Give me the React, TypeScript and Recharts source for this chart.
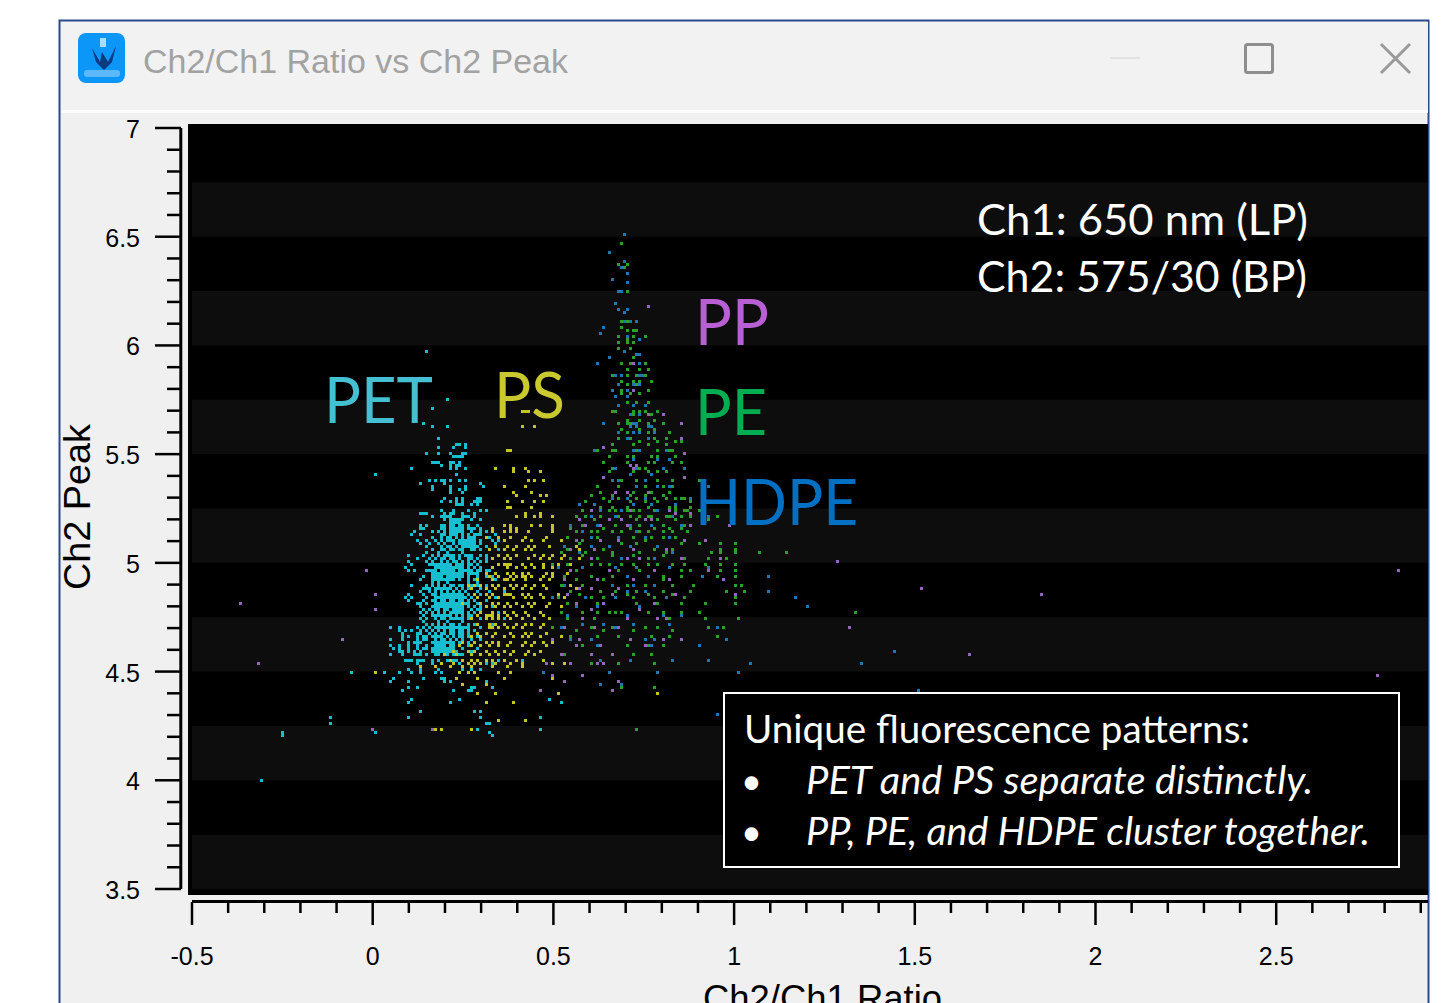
import React from 'react';
import { ScatterChart, Scatter, XAxis, YAxis, ReferenceArea, ReferenceLine } from 'recharts';

type Row = [number, number[]];

const X_TICKS = [-0.5, -0.4, -0.3, -0.2, -0.1, 0, 0.1, 0.2, 0.3, 0.4, 0.5, 0.6, 0.7, 0.8, 0.9, 1, 1.1, 1.2, 1.3, 1.4, 1.5, 1.6, 1.7, 1.8, 1.9, 2, 2.1, 2.2, 2.3, 2.4, 2.5, 2.6, 2.7, 2.8, 2.9];
const Y_TICKS = [3.5, 3.6, 3.7, 3.8, 3.9, 4, 4.1, 4.2, 4.3, 4.4, 4.5, 4.6, 4.7, 4.8, 4.9, 5, 5.1, 5.2, 5.3, 5.4, 5.5, 5.6, 5.7, 5.8, 5.9, 6, 6.1, 6.2, 6.3, 6.4, 6.5, 6.6, 6.7, 6.8, 6.9, 7];
const X_LABELS = [-0.5, 0, 0.5, 1, 1.5, 2, 2.5];
const Y_LABELS = [3.5, 4, 4.5, 5, 5.5, 6, 6.5, 7];
const BANDS = [[6.5, 6.75], [6, 6.25], [5.5, 5.75], [5, 5.25], [4.5, 4.75], [4, 4.25], [3.5, 3.75]];

// each row is [Ch2 peak, [Ch2/Ch1 ratios]]
const PET_ROWS: Row[] = [
  [5.98, [.15]], [5.75, [.205]], [5.71, [.168]], [5.64, [.143]], [5.63, [.163, .209]], [5.57, [.177]],
  [5.55, [.228, .24, .255]], [5.53, [.177, .225, .255]], [5.505, [.15, .177, .218, .246, .255]],
  [5.485, [.224, .232, .24, .25]], [5.47, [.16, .17, .177, .215, .225, .24]], [5.455, [.193, .21, .228, .237]],
  [5.43, [.11, .218, .232, .255]], [5.41, [.01, .232]], [5.385, [.158, .175, .185, .195, .218, .24, .255]],
  [5.37, [.135, .195, .297]], [5.357, [.16, .21, .255, .306]], [5.34, [.166, .218, .24, .255]],
  [5.325, [.215, .245]], [5.305, [.195, .232, .245, .285, .295]], [5.285, [.19, .21, .232, .25, .28, .29, .3]],
  [5.265, [.23, .24, .25, .27, .285]], [5.245, [.19, .225, .265, .3, .31]], [5.23, [.13, .14, .145, .2, .215, .225, .25, .28]],
  [5.21, [.16, .185, .195, .205, .215, .245, .255, .265, .28]], [5.2, [.2, .21, .22, .23, .24, .25, .27, .3]],
  [5.18, [.13, .15, .185, .2, .21, .22, .225, .24, .25, .265, .29]],
  [5.165, [.13, .14, .19, .2, .21, .22, .23, .24, .25, .26, .27, .28, .3]],
  [5.15, [.115, .16, .18, .2, .21, .22, .23, .24, .25, .27, .3, .31, .33]],
  [5.135, [.11, .135, .185, .2, .21, .22, .23, .245, .26, .28, .29, .3, .34]],
  [5.12, [.16, .185, .205, .215, .23, .25, .26, .27, .28, .32]],
  [5.105, [.125, .145, .175, .19, .21, .225, .24, .25, .26, .27, .28, .3, .33, .35]],
  [5.09, [.13, .155, .18, .2, .22, .235, .245, .255, .27, .28, .3, .34]],
  [5.075, [.145, .19, .21, .23, .25, .27, .29, .31]],
  [5.06, [.165, .185, .2, .215, .225, .24, .25, .27, .28, .3, .32, .35]],
  [5.04, [.1, .14, .16, .18, .195, .21, .225, .24, .255, .275, .295, .315]],
  [5.025, [.12, .155, .17, .19, .2, .21, .22, .24, .26, .27, .29, .31, .33]],
  [5.01, [.095, .15, .165, .185, .205, .22, .23, .245, .26, .28, .3, .31]],
  [4.995, [.11, .16, .17, .18, .19, .2, .21, .23, .24, .25, .27, .29]],
  [4.98, [.09, .17, .18, .19, .2, .21, .22, .23, .24, .25, .26, .28, .3]],
  [4.965, [.1, .115, .155, .165, .175, .185, .195, .205, .215, .225, .235, .245, .255, .265, .275, .285, .3, .31, .32]],
  [4.95, [.16, .17, .18, .19, .2, .21, .22, .23, .24, .25, .26, .27, .28, .29]],
  [4.935, [.14, .16, .175, .19, .205, .22, .235, .25, .265, .29, .31, .33]],
  [4.92, [.13, .17, .19, .2, .21, .225, .24, .26, .28, .34]],
  [4.905, [.11, .15, .16, .18, .195, .21, .22, .235, .245, .26, .27, .29, .31]],
  [4.89, [.14, .15, .17, .19, .2, .215, .23, .25, .27, .3]],
  [4.875, [.135, .155, .175, .19, .205, .22, .24, .255, .29, .32, .36]],
  [4.86, [.1, .14, .16, .17, .185, .2, .21, .22, .23, .24, .25, .26, .28, .3]],
  [4.845, [.09, .105, .15, .17, .18, .19, .2, .21, .22, .23, .24, .27, .29, .34]],
  [4.83, [.1, .14, .16, .175, .19, .2, .21, .22, .245, .26, .28, .31]],
  [4.815, [.125, .135, .15, .17, .19, .2, .21, .22, .23, .24, .25, .265, .29]],
  [4.8, [.13, .16, .175, .19, .21, .225, .24, .25, .26, .28, .3, .33]],
  [4.785, [.14, .155, .17, .195, .205, .22, .235, .25, .27, .3]],
  [4.77, [.13, .15, .165, .18, .2, .21, .22, .23, .24, .26, .28, .35]],
  [4.755, [.14, .16, .18, .19, .2, .215, .23, .25, .27, .29, .31]],
  [4.74, [.135, .15, .17, .185, .2, .21, .22, .235, .25, .265, .3, .36]],
  [4.725, [.15, .16, .18, .195, .21, .225, .24, .26, .28, .33]],
  [4.71, [.05, .075, .12, .14, .155, .17, .185, .2, .21, .22, .24, .255, .3]],
  [4.695, [.07, .09, .105, .13, .15, .165, .18, .195, .21, .225, .24, .26, .28]],
  [4.68, [.085, .12, .135, .155, .17, .19, .2, .21, .22, .24, .25, .265, .31]],
  [4.665, [.08, .1, .125, .14, .16, .175, .19, .205, .22, .235, .25, .26, .29]],
  [4.65, [.05, .085, .12, .14, .15, .17, .185, .2, .215, .23, .245, .27, .3]],
  [4.635, [.1, .125, .16, .175, .19, .2, .21, .22, .235, .25, .28]],
  [4.62, [.05, .07, .1, .125, .15, .17, .18, .19, .2, .21, .22, .24, .26]],
  [4.605, [.055, .075, .1, .12, .145, .165, .18, .19, .2, .21, .225, .25, .29]],
  [4.59, [.07, .085, .1, .115, .13, .16, .175, .19, .2, .21, .23, .27]],
  [4.575, [.05, .08, .115, .13, .15, .18, .2, .22, .245, .3]],
  [4.555, [.09, .1, .11, .12, .14, .16, .23, .25, .27, .35, .41]],
  [4.535, [.12, .16, .22, .24, .26, .31, .33]],
  [4.515, [.1, .13, .18, .25, .27, .3]],
  [4.495, [-.057, .03, .07, .11, .13, .17, .19]], [4.47, [.06, .14, .19, .2]], [4.45, [.05, .1, .2, .21, .31]],
  [4.435, [.1, .12, .27, .28, .33]], [4.41, [.08, .22, .26, .27]], [4.38, [.11, .24, .49]], [4.355, [.1, .21, .39, .52]],
  [4.32, [.13, .3, .28]], [4.295, [-.117, .1, .46, .3]], [4.26, [-.117, .31, .32]], [4.235, [.17, .29, .46]],
  [4.22, [-.25, .01, .32]], [4.205, [-.25, .33]], [4, [-.31]],
];

// the solid blobs in the middle of the PET cluster
const PET_CORE_ROWS: Row[] = [
  [5.205, [.223, .231, .239, .247]], [5.19, [.215, .223, .231, .239]], [5.175, [.215, .223, .239]],
  [5.16, [.223, .231, .239, .247]], [5.145, [.231, .239, .247]], [5.13, [.215, .223, .231, .247]],
  [5.105, [.25, .258, .274]], [5.09, [.258, .266, .274]], [5.075, [.25, .258, .266, .282]],
  [4.975, [.173, .19, .198, .206, .215, .223, .24]],
  [4.96, [.165, .173, .181, .198, .206, .223, .231, .248]],
  [4.945, [.173, .181, .19, .206, .215, .231, .24, .248]],
  [4.93, [.165, .181, .19, .198, .206, .223, .24]],
  [4.845, [.18, .198, .206, .223, .231, .248, .256]],
  [4.83, [.19, .198, .215, .223, .24, .248]],
  [4.815, [.19, .206, .215, .231, .24, .256]],
  [4.8, [.18, .198, .206, .223, .231, .248]],
  [4.77, [.21, .218, .235, .245]], [4.755, [.218, .227, .245]], [4.74, [.218, .227, .235]],
  [4.725, [.21, .218, .235]], [4.71, [.218, .227, .245]], [4.695, [.21, .235, .245]],
  [4.64, [.165, .181, .19, .206, .215]], [4.625, [.173, .19, .198, .215]],
  [4.61, [.165, .173, .198, .206, .223]], [4.595, [.181, .19, .206]],
];

// in-between readings that break up the columns of the cluster
const PET_FILL_ROWS: Row[] = [
  [5.11, [.1724, .2056, .2637]], [5.08, [.2056, .2305, .2637, .2886]], [5.05, [.148, .1807, .2056, .2471]],
  [5.03, [.1807, .2056, .2637]], [5.0, [.1558, .2056, .2305, .2637]], [4.97, [.148, .2056, .2637, .2969]],
  [4.94, [.1807, .2056, .2388]], [4.91, [.1641, .1807, .2056, .2637, .2886]], [4.88, [.1558, .1807, .2056, .2471, .2637]],
  [4.85, [.1641, .2056, .2637, .3135]], [4.82, [.148, .1807, .2056, .2637]], [4.79, [.1807, .2056, .2305, .2886]],
  [4.76, [.1724, .2056, .2637]], [4.73, [.1392, .1807, .2056, .2471]], [4.7, [.1807, .2056, .2637, .1226]],
  [4.67, [.1475, .1807, .2056, .2388]], [4.64, [.1309, .1807, .2056, .2637, .1143]], [4.61, [.1392, .1807, .2056, .0977]],
  [4.58, [.1226, .1475, .1724, .2056, .2388]], [4.56, [.1309, .1807, .2056, .2222]],
];

const PS_ROWS: Row[] = [
  [5.7, [.41, .42, .43]], [5.63, [.41, .45]], [5.52, [.37, .38]], [5.44, [.34, .39, .42]], [5.42, [.39, .43, .46]],
  [5.38, [.43, .45, .47]], [5.36, [.36, .42]], [5.33, [.39, .44]], [5.31, [.4, .46, .48]], [5.28, [.37, .41, .45, .47]],
  [5.26, [.37, .38, .44]], [5.23, [.42, .46]], [5.21, [.4, .42, .45, .46, .5]], [5.18, [.36, .38, .44, .46, .5]],
  [5.16, [.38, .4, .5, .33]], [5.14, [.33, .36, .38, .4, .43, .5]], [5.12, [.31, .35, .38, .42, .48]],
  [5.1, [.36, .41, .44, .47, .52]], [5.08, [.34, .37, .4, .43, .45, .49, .53, .56]],
  [5.06, [.32, .36, .39, .42, .44, .54, .57]], [5.04, [.35, .37, .4, .45, .47, .5, .53]],
  [5.02, [.33, .36, .38, .43, .46, .49, .52, .57]], [5, [.35, .36, .37, .38, .41, .44, .47, .51, .55]],
  [4.98, [.33, .37, .4, .42, .45, .47, .5]], [4.96, [.31, .34, .37, .39, .41, .43, .48, .5, .54]],
  [4.94, [.32, .35, .38, .4, .41, .42, .44, .47, .5]], [4.92, [.29, .33, .36, .37, .39, .42, .46, .49, .53]],
  [4.9, [.26, .28, .3, .33, .35, .38, .4, .42, .45, .47, .52, .55]], [4.88, [.27, .31, .34, .36, .39, .41, .44, .48, .56]],
  [4.86, [.28, .31, .33, .36, .37, .38, .41, .43, .46, .51]], [4.84, [.29, .32, .35, .39, .42, .44, .47, .53]],
  [4.82, [.25, .3, .33, .35, .37, .4, .43, .45, .49]], [4.8, [.31, .34, .36, .38, .41, .44, .48, .52]],
  [4.78, [.3, .33, .36, .39, .42, .46]], [4.76, [.29, .31, .32, .33, .35, .37, .4, .43, .47]],
  [4.74, [.27, .31, .33, .35, .38, .41, .45, .49]], [4.72, [.29, .32, .34, .36, .4, .42, .44, .47]],
  [4.7, [.32, .33, .35, .37, .39, .41, .46, .5]], [4.68, [.29, .31, .34, .38, .42, .44, .48]],
  [4.66, [.27, .3, .33, .36, .39, .41, .43, .46, .52]], [4.64, [.25, .28, .31, .33, .35, .38, .42, .45, .47, .5]],
  [4.62, [.24, .27, .3, .32, .35, .37, .41, .44, .48]], [4.6, [.22, .26, .28, .31, .34, .36, .39, .43, .46]],
  [4.58, [.2, .23, .27, .3, .32, .35, .38, .42, .45, .53]], [4.56, [.21, .25, .27, .29, .31, .33, .36, .4, .47]],
  [4.54, [.19, .22, .26, .28, .3, .34, .38, .41, .5, .53]], [4.52, [.13, .17, .21, .25, .27, .33, .37, .41]],
  [4.5, [.01, .24, .26, .28, .35, .38]], [4.47, [.23, .29, .36, .5]], [4.44, [.25, .31]], [4.4, [.29, .34, .51, .79]],
  [4.36, [.31, .39]], [4.28, [.35, .42]], [4.24, [.17, .19, .27]],
];

const HDPE_ROWS: Row[] = [
  [6.51, [.693]], [6.427, [.652]], [6.385, [.693]], [6.354, [.684]], [6.34, [.702]], [6.3, [.661]], [6.285, [.702]],
  [6.254, [.675, .685]], [6.19, [.668]], [6.17, [.677, .702]], [6.158, [.693]], [6.113, [.693, .71, .726]],
  [6.083, [.635]], [6.055, [.627]], [6.04, [.702, .718]], [6.03, [.735]], [5.98, [.693]], [5.956, [.73, .74]],
  [5.94, [.652]], [5.913, [.619, .74, .757]], [5.87, [.69, .74]], [5.86, [.67, .745]], [5.82, [.68, .72, .74]],
  [5.8, [.66, .7, .72, .76]], [5.765, [.67, .7]], [5.73, [.68, .72, .75]], [5.69, [.71, .74]], [5.65, [.64, .7, .72, .73]],
  [5.63, [.71, .73, .76, .77]], [5.6, [.68, .72, .74, .78]], [5.57, [.7, .76]], [5.52, [.61, .72, .74, .81]],
  [5.48, [.72, .79, .82]], [5.44, [.67, .73, .8, .86]], [5.41, [.71, .77]], [5.38, [.66, .68, .75, .79]],
  [5.35, [.62, .73, .79, .82, .93]], [5.3, [.64, .66, .7, .75, .81, .88]], [5.27, [.57, .61, .72, .77, .84]],
  [5.25, [.63, .69, .74, .79, .9]], [5.22, [.6, .67, .74, .83, .93]], [5.18, [.55, .62, .71, .77, .85]],
  [5.14, [.58, .66, .73, .8]], [5.12, [.6, .68, .75, .82]], [5.08, [.53, .6, .65, .71, .79]], [5.05, [.57, .74, .83]],
  [5.02, [.55, .62, .69, .78, .86, .93]], [4.98, [.51, .58, .67, .73, .82, .93]], [4.94, [.6, .7, .76, .85, .91, 1.09]],
  [4.9, [.53, .66, .72, .78, 1.0]], [4.87, [.55, .63, .7, .75, 1.09]], [4.84, [.5, .59, .67, .81, 1.17]],
  [4.8, [.56, .62, .74, 1.2]], [4.76, [.54, .7, .8, .85]], [4.72, [.58, .64, .72, .82]], [4.7, [.52, .61, .67, .79, .95]],
  [4.65, [.55, .6, .75, .78, .98]], [4.62, [.62, .7, .77, .9]], [4.6, [1.44]], [4.56, [.63, .71, .83, .93]],
  [4.54, [1.04, 1.35]], [4.5, [.47, .65, .79, 1.01]], [4.44, [.63, .69]], [4.41, [1.51]], [4.31, [2.15, .95]],
];

const PE_ROWS: Row[] = [
  [6.47, [.685]], [6.37, [.678, .701]], [6.355, [.695]], [6.255, [.703]], [6.11, [.685, .7]], [6.09, [.69]],
  [6.07, [.7, .72, .73]], [6.05, [.675, .72, .75]], [6.03, [.7]], [6.01, [.675, .705, .72]], [5.99, [.675, .71]],
  [5.95, [.72]], [5.92, [.69, .71, .75]], [5.89, [.7, .74, .76]], [5.87, [.73, .75]], [5.86, [.66, .7, .75]],
  [5.84, [.69, .72, .74, .77]], [5.82, [.7, .73]], [5.8, [.69, .72, .76]], [5.78, [.69, .71, .74]], [5.74, [.7, .73, .76]],
  [5.7, [.66, .67, .72, .74, .75, .79]], [5.68, [.72, .77]], [5.66, [.7, .74, .78]], [5.64, [.68, .7, .71, .76, .8]],
  [5.62, [.69, .74, .78]], [5.6, [.7, .76, .82]], [5.58, [.68, .71, .78, .81]], [5.56, [.74, .79, .84, .85]],
  [5.54, [.66, .72, .76, .81]], [5.52, [.62, .66, .67, .73, .79, .82, .83]], [5.49, [.65, .7, .72, .77, .79, .84]],
  [5.46, [.64, .7, .76, .78, .83, .85]], [5.44, [.66, .72, .74, .75]], [5.42, [.65, .72, .76, .79, .81]],
  [5.38, [.69, .73, .79, .83, .9]], [5.36, [.62, .68, .75, .8, .83]], [5.33, [.63, .7, .72, .77, .82]],
  [5.3, [.64, .68, .73, .78, .81, .84, .85, .86]], [5.28, [.59, .65, .71, .75, .79, .88]],
  [5.26, [.63, .66, .7, .76, .82, .84, .88, .91]], [5.24, [.6, .65, .7, .72, .78, .84, .87, .9]],
  [5.22, [.56, .63, .68, .74, .77, .81, .85, .88, .95]], [5.2, [.61, .65, .73, .79, .84, .93]],
  [5.18, [.58, .67, .7, .74, .8, .86]], [5.16, [.55, .64, .71, .78, .82, .85]], [5.14, [.56, .6, .69, .76, .83, .87]],
  [5.12, [.54, .62, .72, .77, .8, .84]], [5.09, [.57, .69, .73, .85, .9, .96, 1.0]], [5.07, [.54, .64, .78, .83, .96, 1.0]],
  [5.05, [.52, .59, .66, .74, .81, .94, .96, 1.0, 1.07, 1.14]], [5.02, [.55, .62, .7, .76, .86, .93, .98]],
  [5, [.5, .6, .65, .72, .79, .83, .92, .96, 1.0]], [4.97, [.56, .68, .74, .85, .88, .96, 1.0]],
  [4.94, [.53, .6, .66, .8, .85, .95, 1.0]], [4.9, [.52, .58, .7, .75, .83, .89, 1.0, 1.02]],
  [4.87, [.55, .63, .67, .73, .8, .88, .98, 1.03]], [4.84, [.51, .6, .64, .72, .78, .86, 1.0]],
  [4.81, [.54, .62, .73, .79, .85, .92, 1.0]], [4.77, [.58, .65, .69, .8, .85, .9, 1.335]],
  [4.74, [.54, .61, .7, .82, .92, 1.01]], [4.7, [.5, .6, .66, .75, .79, .93, .97]], [4.66, [.55, .62, .68, .77, .82, .95]],
  [4.62, [.58, .7, .76, .8]], [4.58, [.53, .66, .72, .77]], [4.54, [.6, .68, .78]], [4.43, [.78, .69]], [4.24, [.73]],
  [5.31, [.6, .66, .71, .75, .8]], [5.25, [.58, .67, .74, .86]], [5.21, [.59, .71, .76, .82]], [5.15, [.62, .66, .74, .8]],
  [5.11, [.58, .68, .75, .86]], [5.03, [.58, .66, .72, .8]], [4.99, [.54, .63, .69, .76, .86]], [4.92, [.56, .64, .72, .8]],
  [4.85, [.57, .7, .76, .83]], [4.78, [.52, .62, .67, .76]], [4.69, [.56, .64, .72, .83]],
];

const PP_ROWS: Row[] = [
  [6.185, [.76]], [5.92, [.72]], [5.8, [.72]], [5.68, [.765, .8]], [5.64, [.85]], [5.58, [.85]], [5.53, [.64]], [5.51, [.86]],
  [5.45, [.71, .73]], [5.44, [.72]], [5.39, [.64, .86]], [5.33, [.67, .7, .76]], [5.25, [.6, .71, .82]], [5.23, [.84, .88]],
  [5.2, [.57, .65, .69, .75, .77]], [5.17, [.59, .63, .7, .88, .99]], [5.1, [.56, .63, .68, .86, .92]], [5.06, [.55, .61, .72, .81]],
  [5.02, [.6, .7, .74, .85, .96]], [5.01, [1.285]], [4.97, [-.016, .55, .65, .78, .93, 2.84]], [4.92, [.53, .62, .72, .82, .97]],
  [4.88, [.57, .6, .68, 1.52]], [4.85, [.006, .54, .66, .84, 1.0, 1.85]], [4.81, [-.37, .56, .64, .78]], [4.79, [.006, .6, .74]],
  [4.75, [.58, .7, .79, .81]], [4.71, [.53, .61, .68, 1.32]], [4.655, [-.088, .5, .57, .71, .8, .85]], [4.62, [.56, .63, .75]],
  [4.585, [.52, .6, .66, 1.65]], [4.54, [-.32, .48, .55, .62, .64]], [4.485, [.5, .58, 2.78]], [4.46, [.53, .68]],
  [4.42, [.46, .66]], [4.23, [0, .16]],
];

const CYAN = '#17becf';
const YELLOW = '#c3c425';
const BLUE = '#1f77b4';
const GREEN = '#2ca02c';
const PURPLE = '#9467bd';

const toPoints = (rows: Row[]) => rows.flatMap(([y, xs]) => xs.map((x) => ({ x, y })));

// the source window plots on a coarse screen grid, so snap each mark to it
const Pixel = (props: any) => (
  <rect
    x={Math.round(props.cx / 3) * 3 - 1}
    y={Math.round(props.cy / 3) * 3 - 1}
    width={3}
    height={3}
    fill={props.fill}
    shapeRendering="crispEdges"
  />
);

const AXIS_FONT = '"Liberation Sans", Arial, sans-serif';
const TEXT_FONT = 'Lato, sans-serif';

const XTick = ({ x, y, payload }: any) => {
  const major = X_LABELS.includes(payload.value);
  return (
    <g>
      <line x1={x} x2={x} y1={y + 13} y2={y + (major ? 36 : 24)} stroke="#000" strokeWidth={2.5} />
      {major && (
        <text x={x} y={y + 76} textAnchor="middle" fontFamily={AXIS_FONT} fontSize={25} fill="#000">
          {payload.value}
        </text>
      )}
    </g>
  );
};

const YTick = ({ x, y, payload }: any) => {
  const major = Y_LABELS.includes(payload.value);
  return (
    <g>
      <line x1={x - (major ? 37 : 25)} x2={x - 11} y1={y} y2={y} stroke="#000" strokeWidth={2.5} />
      {major && (
        <text x={x - 52} y={y + 10} textAnchor="end" fontFamily={AXIS_FONT} fontSize={25} fill="#000">
          {payload.value}
        </text>
      )}
    </g>
  );
};

const WindowFrame = () => (
  <svg width={1445} height={1003} style={{ position: 'absolute', left: 0, top: 0 }}>
    <rect x={0} y={0} width={1445} height={1003} fill="#fff" />
    <rect x={59.5} y={20.5} width={1369} height={1000} fill="#f0f0f0" stroke="#2b4a8b" strokeWidth={2} />
    <rect x={61} y={22} width={1367} height={88} fill="#f2f2f2" />
    <rect x={61} y={110} width={1367} height={3} fill="#fbfbfb" />
    <rect x={78} y={33} width={47} height={50} rx={8} fill="#0b96f8" />
    <path d="M 92 48 L 100 62 L 102 52 L 108 62 L 116 46 L 112 62 L 104 70 L 96 62 Z" fill="#0a3a80" />
    <rect x={100} y={38} width={6} height={9} fill="#a9dcff" />
    <rect x={84} y={70} width={36} height={7} rx={3} fill="#5bb8fb" />
    <text x={143} y={73} fontFamily={AXIS_FONT} fontSize={34} fill="#a2a2a2" textLength={425} lengthAdjust="spacingAndGlyphs">
      Ch2/Ch1 Ratio vs Ch2 Peak
    </text>
    <line x1={1110} x2={1140} y1={58} y2={58} stroke="#e2e2e2" strokeWidth={2} />
    <rect x={1245.5} y={44.5} width={27} height={28} rx={2} fill="none" stroke="#8e8e8e" strokeWidth={3} />
    <path d="M 1381 44 L 1410 73 M 1410 44 L 1381 73" stroke="#9a9a9a" strokeWidth={3} />
    <rect x={188} y={124} width={1240} height={771} fill="#000" />
    <text transform="translate(90 590) rotate(-90)" fontFamily={AXIS_FONT} fontSize={36} fill="#000" textLength={166} lengthAdjust="spacingAndGlyphs">
      Ch2 Peak
    </text>
    <text x={703} y={1011} fontFamily={AXIS_FONT} fontSize={36} fill="#000" textLength={239} lengthAdjust="spacingAndGlyphs">
      Ch2/Ch1 Ratio
    </text>
  </svg>
);

const Notes = () => (
  <svg width={1445} height={1003} style={{ position: 'absolute', left: 0, top: 0 }} fontFamily={TEXT_FONT}>
    <text x={977} y={235} fontSize={42} fill="#fff" textLength={331} lengthAdjust="spacingAndGlyphs">Ch1: 650 nm (LP)</text>
    <text x={977} y={292} fontSize={42} fill="#fff" textLength={330} lengthAdjust="spacingAndGlyphs">Ch2: 575/30 (BP)</text>
    <text x={324} y={423} fontSize={64} fill="#45bfd2" textLength={109} lengthAdjust="spacingAndGlyphs">PET</text>
    <text x={494} y={418} fontSize={64} fill="#c9c92f" textLength={71} lengthAdjust="spacingAndGlyphs">PS</text>
    <text x={695} y={345} fontSize={64} fill="#b85fd3" textLength={74} lengthAdjust="spacingAndGlyphs">PP</text>
    <text x={695} y={435} fontSize={64} fill="#00ad50" textLength={72} lengthAdjust="spacingAndGlyphs">PE</text>
    <text x={695} y={525} fontSize={64} fill="#0070c4" textLength={163} lengthAdjust="spacingAndGlyphs">HDPE</text>
    <rect x={724} y={693} width={675} height={174} fill="#000" stroke="#fff" strokeWidth={2} />
    <text x={744} y={743} fontSize={38} fill="#fff" textLength={506} lengthAdjust="spacingAndGlyphs">Unique fluorescence patterns:</text>
    <text x={741} y={794} fontSize={36} fill="#fff">•</text>
    <text x={806} y={794} fontSize={38} fontStyle="italic" fill="#fff" textLength={507} lengthAdjust="spacingAndGlyphs">PET and PS separate distinctly.</text>
    <text x={741} y={845} fontSize={36} fill="#fff">•</text>
    <text x={806} y={845} fontSize={38} fontStyle="italic" fill="#fff" textLength={564} lengthAdjust="spacingAndGlyphs">PP, PE, and HDPE cluster together.</text>
  </svg>
);

export default function App() {
  return (
    <div style={{ position: 'absolute', left: 0, top: 0, width: 1445, height: 1003, overflow: 'hidden' }}>
      <WindowFrame />
      <div style={{ position: 'absolute', left: 0, top: 0 }}>
        <ScatterChart width={1445} height={1003} margin={{ top: 128, right: 17, bottom: 0, left: 0 }}>
          <XAxis
            type="number"
            dataKey="x"
            domain={[-0.5, 2.92]}
            ticks={X_TICKS}
            interval={0}
            height={114}
            axisLine={false}
            tickLine={false}
            tickSize={0}
            tickMargin={0}
            tick={<XTick />}
          />
          <YAxis
            type="number"
            dataKey="y"
            domain={[3.5, 7]}
            ticks={Y_TICKS}
            interval={0}
            width={192}
            axisLine={false}
            tickLine={false}
            tickSize={0}
            tickMargin={0}
            tick={<YTick />}
          />
          {BANDS.map(([from, to]) => (
            <ReferenceArea key={from} y1={from} y2={to} fill="#0d0d0d" fillOpacity={1} stroke="none" />
          ))}
          <ReferenceLine ifOverflow="visible" segment={[{ x: -0.531, y: 3.5 }, { x: -0.531, y: 7 }]} stroke="#000" strokeWidth={3} />
          <ReferenceLine ifOverflow="visible" segment={[{ x: -0.5, y: 3.442 }, { x: 2.92, y: 3.442 }]} stroke="#000" strokeWidth={3} />
          <Scatter data={toPoints(PET_ROWS)} fill={CYAN} shape={Pixel} isAnimationActive={false} />
          <Scatter data={toPoints(PET_CORE_ROWS)} fill={CYAN} shape={Pixel} isAnimationActive={false} />
          <Scatter data={toPoints(PET_FILL_ROWS)} fill={CYAN} shape={Pixel} isAnimationActive={false} />
          <Scatter data={toPoints(PS_ROWS)} fill={YELLOW} shape={Pixel} isAnimationActive={false} />
          <Scatter data={toPoints(HDPE_ROWS)} fill={BLUE} shape={Pixel} isAnimationActive={false} />
          <Scatter data={toPoints(PE_ROWS)} fill={GREEN} shape={Pixel} isAnimationActive={false} />
          <Scatter data={toPoints(PP_ROWS)} fill={PURPLE} shape={Pixel} isAnimationActive={false} />
        </ScatterChart>
      </div>
      <Notes />
    </div>
  );
}
